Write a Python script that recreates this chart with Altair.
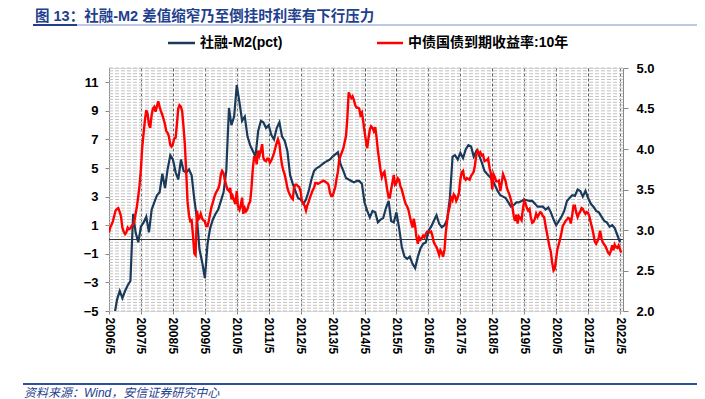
import altair as alt
import pandas as pd
import numpy as np

# ---------------- data ----------------
title_text = "图 13：社融-M2 差值缩窄乃至倒挂时利率有下行压力"
source_text = "资料来源：Wind，安信证券研究中心"
series_names = ["社融-M2(pct)", "中债国债到期收益率:10年"]

# 社融-M2 (pct), monthly from 2006/5 to 2022/5 (left axis)
navy_vals = [
    -6.5, -6.0, -5.3, -4.2, -3.6, -4.1, -3.6, -3.2, -2.9, 1.8, 0.5, -0.2,
    0.9, 1.2, 1.6, 0.5, 2.1, 2.6, 3.1, 3.3, 4.6, 3.6, 4.9, 5.9,
    5.6, 4.7, 4.2, 5.6, 4.8, 4.7, 4.9, 4.5, 2.8, 1.4, -0.7, -1.6,
    -2.7, -0.3, 0.8, 1.4, 1.8, 2.1, 2.7, 3.3, 4.8, 9.2, 8.0, 8.6,
    10.8, 9.6, 8.3, 8.6, 7.2, 6.6, 6.2, 5.8, 7.6, 8.3, 8.2, 7.8,
    8.0, 7.3, 7.0, 7.8, 8.2, 7.2, 6.9, 6.2, 4.5, 3.9, 3.4, 2.9,
    2.8, 2.5, 2.8, 3.4, 4.2, 4.8, 5.0, 5.1, 5.25, 5.4, 5.5, 5.6,
    5.8, 5.95, 6.1, 5.25, 4.8, 4.3, 4.2, 4.1, 4.0, 4.1, 4.1, 3.9,
    2.6, 2.0, 1.55, 2.0, 1.9, 1.2, 1.4, 1.5, 2.2, 2.7, 1.3, 1.2,
    1.9, 0.8, -0.5, -1.2, -1.35, -1.2, -1.7, -2.0, -1.2, -0.6, -0.3, -0.2,
    0.6, 0.9, 1.3, 1.7, 1.1, 0.86, 1.0, 1.4, 2.9, 5.8, 5.9, 5.6,
    6.06, 5.7, 6.3, 6.6, 6.5, 5.8, 6.2, 5.9, 5.4, 4.8, 4.6, 4.4,
    4.2, 3.8, 3.4, 3.1, 3.0, 2.9, 2.6, 2.3, 2.4, 2.6, 2.6, 2.7,
    2.8, 2.75, 2.7, 2.7, 2.5, 2.3, 2.3, 2.3, 2.1, 2.25, 1.9, 1.4,
    1.0, 1.3, 1.6, 2.0, 2.7, 2.9, 3.1, 3.05, 3.5, 3.4, 3.0, 3.4,
    2.9, 2.5, 2.3, 2.0, 1.9, 1.6, 1.3, 1.2, 0.9, 1.0, 0.8, 0.3,
    -0.2,
]

# 中债国债到期收益率:10年 (%), twice a month from 2006/5 (right axis)
red_vals = [
    2.97, 3.03, 3.07, 3.11, 3.18, 3.24, 3.26, 3.27, 3.22, 3.17, 3.03, 2.98,
    2.95, 2.97, 3.03, 3.01, 3.02, 3.05, 3.07, 3.11, 3.20, 3.28, 3.42, 3.55,
    3.75, 4.01, 4.20, 4.35, 4.48, 4.44, 4.30, 4.26, 4.42, 4.50, 4.52, 4.46,
    4.53, 4.59, 4.52, 4.47, 4.42, 4.37, 4.30, 4.22, 4.20, 4.16, 4.05, 4.03,
    4.06, 4.13, 4.14, 4.30, 4.50, 4.54, 4.52, 4.46, 4.25, 4.05, 3.69, 3.35,
    3.18, 3.11, 3.12, 2.95, 2.71, 2.69, 3.24, 3.13, 3.15, 3.20, 3.14, 3.12,
    3.11, 3.05, 3.05, 3.11, 3.20, 3.28, 3.34, 3.40, 3.45, 3.48, 3.51, 3.56,
    3.69, 3.73, 3.70, 3.62, 3.55, 3.50, 3.48, 3.52, 3.38, 3.42, 3.36, 3.32,
    3.48, 3.29, 3.25, 3.30, 3.40, 3.20, 3.27, 3.23, 3.26, 3.32, 3.35, 3.50,
    3.76, 3.90, 3.90, 3.81, 3.98, 3.92, 3.98, 4.06, 3.89, 3.86, 3.85, 3.88,
    3.88, 3.83, 3.86, 3.90, 3.95, 4.01, 4.08, 4.12, 4.06, 3.92, 3.80, 3.74,
    3.68, 3.61, 3.52, 3.47, 3.43, 3.40, 3.38, 3.52, 3.56, 3.56, 3.54, 3.53,
    3.47, 3.36, 3.33, 3.30, 3.24, 3.30, 3.35, 3.40, 3.45, 3.49, 3.52, 3.58,
    3.58, 3.57, 3.58, 3.59, 3.60, 3.61, 3.60, 3.59, 3.58, 3.56, 3.46, 3.42,
    3.42, 3.47, 3.53, 3.63, 3.72, 3.86, 3.92, 3.96, 4.01, 4.08, 4.16, 4.35,
    4.70, 4.66, 4.63, 4.65, 4.60, 4.54, 4.51, 4.51, 4.50, 4.42, 4.45, 4.35,
    4.22, 4.12, 4.01, 4.13, 4.24, 4.28, 4.26, 4.22, 4.27, 4.15, 3.98, 3.87,
    3.73, 3.65, 3.70, 3.72, 3.60, 3.50, 3.40, 3.40, 3.50, 3.58, 3.68, 3.56,
    3.58, 3.64, 3.62, 3.54, 3.50, 3.44, 3.37, 3.32, 3.29, 3.25, 3.17, 3.10,
    3.03, 3.14, 3.05, 2.92, 2.83, 2.91, 2.88, 2.90, 2.93, 2.91, 2.95, 2.98,
    2.98, 2.97, 2.98, 2.93, 2.85, 2.82, 2.79, 2.75, 2.69, 2.75, 2.72, 2.67,
    2.76, 2.96, 3.12, 3.22, 3.30, 3.42, 3.37, 3.44, 3.42, 3.36, 3.40, 3.46,
    3.62, 3.71, 3.73, 3.64, 3.62, 3.64, 3.63, 3.62, 3.67, 3.69, 3.72, 3.80,
    3.94, 3.98, 3.94, 3.96, 3.92, 3.93, 3.85, 3.86, 3.86, 3.88, 3.76, 3.70,
    3.50, 3.69, 3.65, 3.60, 3.60, 3.61, 3.48, 3.57, 3.69, 3.65, 3.60, 3.52,
    3.47, 3.43, 3.37, 3.30, 3.18, 3.11, 3.19, 3.08, 3.17, 3.15, 3.12, 3.25,
    3.36, 3.33, 3.27, 3.24, 3.26, 3.16, 3.09, 3.10, 3.14, 3.20, 3.16, 3.19,
    3.22, 3.21, 3.17, 3.16, 3.05, 2.97, 2.87, 2.79, 2.73, 2.60, 2.50, 2.52,
    2.65, 2.76, 2.83, 2.89, 2.97, 3.05, 3.08, 3.11, 3.13, 3.15, 3.14, 3.08,
    3.19, 3.30, 3.30, 3.22, 3.16, 3.20, 3.23, 3.27, 3.26, 3.23, 3.20, 3.22,
    3.21, 3.17, 3.09, 3.03, 2.95, 2.86, 2.83, 2.86, 2.91, 2.99, 2.90, 2.85,
    2.82, 2.80, 2.76, 2.72, 2.70, 2.74, 2.81, 2.75, 2.82, 2.79, 2.78, 2.81,
    2.76, 2.72,
]

tick_years = list(range(2006, 2023))
left_ticks = [-5, -3, -1, 1, 3, 5, 7, 9, 11]
right_ticks = [2.0, 2.5, 3.0, 3.5, 4.0, 4.5, 5.0]
left_domain = [-5, 12]
right_domain = [2, 5]

navy_df = pd.DataFrame({
    "date": pd.date_range("2006-05-01", periods=len(navy_vals), freq="MS"),
    "value": navy_vals,
})
red_df = pd.DataFrame({
    "date": pd.date_range("2006-05-01", periods=len(red_vals), freq="SMS"),
    "value": red_vals,
})
grid_df = pd.DataFrame({"value": np.round(np.arange(-5, 12.001, 0.2), 2)})
zero_df = pd.DataFrame({"value": [0]})
one = pd.DataFrame({"a": [0]})

# ---------------- styling ----------------
NAVY = "#1b3a5a"
RED = "#ff0000"
BLUE = "#1f3f8f"
FONT = "Liberation Sans, Noto Sans CJK SC"
W, H = 514, 243

x_enc = alt.X(
    "date:T",
    scale=alt.Scale(domain=[alt.DateTime(year=2006, month=5, date=1),
                            alt.DateTime(year=2022, month=6, date=4)]),
    axis=alt.Axis(
        values=[alt.DateTime(year=y, month=5, date=1) for y in tick_years],
        format="%Y/%-m", labelAngle=90, labelFontWeight="bold",
        labelFontSize=12, labelFont=FONT, labelColor="#000",
        labelOverlap=False, labelFlush=False,
        grid=True, gridDash=[3, 2], gridColor="#333", gridWidth=0.8,
        domain=False, tickSize=3, tickColor="#888", labelPadding=3, title=None,
    ),
)

left_scale = alt.Scale(domain=left_domain, nice=False, zero=False)
right_scale = alt.Scale(domain=right_domain, nice=False, zero=False)

left_axis = alt.Axis(
    values=left_ticks, grid=False, title=None, labelFontWeight="bold",
    labelFontSize=13, labelFont=FONT, labelColor="#000",
    domainColor="#888", tickColor="#888", tickSize=4, labelPadding=7,
)
left_y = alt.Y("value:Q", scale=left_scale, axis=left_axis)

hgrid = alt.Chart(grid_df).mark_rule(
    strokeDash=[4, 2], color="#c2c2c2", strokeWidth=1
).encode(y=left_y)

zero_line = alt.Chart(zero_df).mark_rule(color="#333", strokeWidth=1).encode(y=left_y)

navy = alt.Chart(navy_df).mark_line(color=NAVY, strokeWidth=2.2, clip=True).encode(
    x=x_enc, y=left_y,
)

left_layer = alt.layer(hgrid, zero_line, navy)

red = alt.Chart(red_df).mark_line(color=RED, strokeWidth=2.4, clip=True).encode(
    x=x_enc,
    y=alt.Y("value:Q", scale=right_scale, axis=alt.Axis(
        orient="right", values=right_ticks, format=".1f", grid=False,
        title=None, labelFontWeight="bold", labelFontSize=13, labelFont=FONT,
        labelColor="#000", domainColor="#888", tickColor="#888",
        tickSize=5, labelPadding=8,
    )),
)

def text_layer(txt, x, y, size, color="#000", weight="bold", style="normal",
               baseline="middle"):
    return alt.Chart(one).mark_text(
        align="left", baseline=baseline, fontSize=size, fontWeight=weight,
        fontStyle=style, color=color, font=FONT,
    ).encode(x=alt.value(x), y=alt.value(y), text=alt.value(txt))

def rule_layer(x1, x2, y, color, width):
    return alt.Chart(one).mark_rule(color=color, strokeWidth=width).encode(
        x=alt.value(x1), x2=alt.value(x2), y=alt.value(y)
    )

title = text_layer(title_text, -74, -58, 14.5, color=BLUE, baseline="top")
title_rule = rule_layer(-76, 588, -43, "#7f95c4", 1)
title_rule_thick = rule_layer(-76, -32, -43, BLUE, 2)

leg1_line = rule_layer(59, 86, -25, NAVY, 2.5)
leg1_txt = text_layer(series_names[0], 91, -25, 14)
leg2_line = rule_layer(268, 294, -25, RED, 2.5)
leg2_txt = text_layer(series_names[1], 299, -25, 14)

foot_rule = rule_layer(-86, 588, 316, "#2f4f9f", 2)
foot_txt = text_layer(source_text, -85, 325, 12, color=BLUE, weight="normal", style="italic")

chart = alt.layer(
    left_layer, red,
    title, title_rule, title_rule_thick,
    leg1_line, leg1_txt, leg2_line, leg2_txt,
    foot_rule, foot_txt,
).resolve_scale(y="independent").properties(
    width=W, height=H,
    autosize=alt.AutoSizeParams(type="none"),
    padding={"left": 101, "top": 60, "right": 74, "bottom": 92},
).configure_view(stroke=None).configure(background="white")

chart.save("out.html", embed_options={"renderer": "svg", "actions": False})
